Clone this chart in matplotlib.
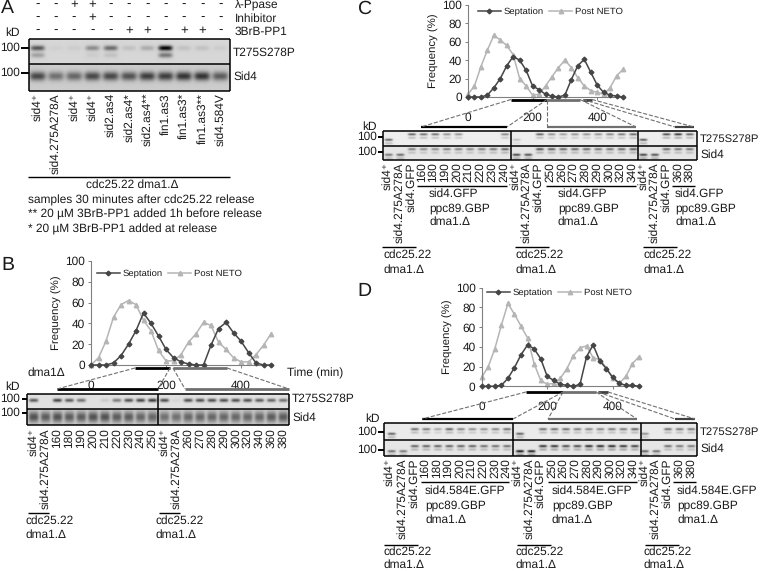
import numpy as np
import matplotlib
matplotlib.use('Agg')
import matplotlib.pyplot as plt

plt.rcParams['font.family'] = ['Liberation Sans', 'DejaVu Sans']
plt.rcParams['text.hinting'] = 'none'

W = 761
H = 571

times = [0, 20, 40, 60, 80, 100, 120, 140, 160, 180, 200, 220, 240, 260, 280, 300,
         320, 340, 360, 380, 400, 420, 440, 460, 480]

sept_b = [0, 0, 0, 2, 9, 20, 33, 50, 40, 28, 15, 7, 3, 1, 0, 0, 19, 35, 41, 31, 23, 12, 2, 0, 0]
neto_b = [0, 7, 23, 46, 58, 62, 58, 43, 33, 14, 4, 4, 10, 22, 30, 41, 38, 22, 15, 7, 3, 3, 10, 19, 30]
sept_c = [0, 0, 0, 2, 10, 20, 34, 44, 40, 29, 12, 8, 3, 1, 0, 2, 19, 34, 41, 27, 13, 5, 2, 1, 0]
neto_c = [3, 12, 33, 51, 67, 62, 56, 46, 20, 12, 2, 3, 12, 22, 32, 40, 32, 21, 12, 7, 5, 3, 10, 23, 30]
sept_d = [0, 0, 0, 1, 8, 19, 32, 42, 38, 28, 10, 6, 2, 1, 0, 2, 30, 42, 26, 18, 9, 3, 1, 1, 0]
neto_d = [9, 20, 38, 62, 84, 73, 61, 49, 23, 6, 2, 3, 8, 18, 31, 39, 41, 29, 27, 19, 8, 3, 10, 23, 30]

# panel A
lanes_a = ['sid4⁺', 'sid4.275A278A', 'sid4⁺', 'sid4⁺', 'sid2.as4', 'sid2.as4*', 'sid2.as4**',
           'fin1.as3', 'fin1.as3*', 'fin1.as3**', 'sid4.584V']
ppase = ['-', '-', '+', '+', '-', '-', '-', '-', '-', '-', '-']
inhibitor = ['-', '-', '-', '+', '-', '-', '-', '-', '-', '-', '-']
brb = ['-', '-', '-', '-', '-', '+', '+', '-', '+', '+', '-']
a_top = [.6, .03, .05, .35, .5, .1, .2, 1, .1, .1, .05]
a_smear = [.25, 0, 0, .05, .1, 0, 0, .45, 0, 0, 0]
a_sid4 = [.65, .45, .5, .65, .65, .6, .7, .7, .75, .75, .55]

# panel B
lanes_b1 = ['sid4⁺', 'sid4.275A278A', '160', '180', '190', '200', '210', '220', '230', '240', '250']
lanes_b2 = ['sid4⁺', 'sid4.275A278A', '260', '270', '280', '290', '300', '320', '340', '360', '380']
b_top = [.6, 0, .7, .6, .5, 0, .1, .45, .65, .7, .75,
         .65, .05, .65, .65, .65, .65, .65, .65, .6, .55, .5]
b_sid4 = [.6, .55, .6, .55, .55, .6, .6, .55, .55, .5, .5,
          .45, .45, .5, .5, .5, .5, .5, .5, .5, .55, .55]

# panels C and D
ctrl = ['sid4⁺', 'sid4.275A278A', 'sid4.GFP']
times_1 = ['160', '180', '190', '200', '210', '220', '230', '240']
times_2 = ['250', '260', '270', '280', '290', '300', '320', '340']
times_3 = ['360', '380']

c_top_hi = [0, 0, .6, .55, .55, .4, .4, 0, 0, 0, .45,
            0, 0, .6, .4, .35, .4, .4, .4, .45, .5, .6,
            0, 0, .7, .8, .6]
c_top_lo = [.6, 0, 0, 0, 0, 0, 0, 0, 0, 0, 0,
            .2, 0, 0, 0, 0, 0, 0, 0, 0, 0, 0,
            .65, 0, 0, 0, 0]
c_sid_hi = [0, 0, .45, .4, .4, .45, .45, .4, .45, .5, .6,
            0, 0, .65, .6, .55, .55, .55, .5, .5, .55, .6,
            0, 0, .55, .5, .5]
c_sid_lo = [.5, .55, 0, 0, 0, 0, 0, 0, 0, 0, 0,
            .7, .65, 0, 0, 0, 0, 0, 0, 0, 0, 0,
            .7, .65, 0, 0, 0]
d_top_hi = [0, 0, .55, .5, .3, .6, .45, .4, .4, .45, .55,
            0, 0, .55, .55, .55, .5, .45, .45, .5, .5, .6,
            0, 0, .55, .5, .5]
d_top_lo = [.6, 0, 0, 0, 0, 0, 0, 0, 0, 0, 0,
            .6, 0, 0, 0, 0, 0, 0, 0, 0, 0, 0,
            .4, 0, 0, 0, 0]
d_sid_hi = [0, 0, .6, .6, .6, .6, .6, .6, .55, .55, .55,
            0, 0, .8, .8, .7, .7, .85, .85, .85, .8, .75,
            0, 0, .55, .5, .5]
d_sid_lo = [.55, .5, 0, 0, 0, 0, 0, 0, 0, 0, 0,
            .95, .9, 0, 0, 0, 0, 0, 0, 0, 0, 0,
            .6, .55, 0, 0, 0]

fig = plt.figure(figsize=(W / 100, H / 100), dpi=100)

ov = fig.add_axes([0, 0, 1, 1], zorder=5)
ov.set_xlim(0, W)
ov.set_ylim(H, 0)
ov.axis('off')


def txt(x, y, s, size=8.6, ha='left', va='center', rot=0):
    ov.text(x, y, s, fontsize=size, ha=ha, va=va, rotation=rot, color='#1a1a1a')


def line(x0, y0, x1, y1, color='black', lw=1.0, ls='-'):
    ov.plot([x0, x1], [y0, y1], color=color, lw=lw, ls=ls, solid_capstyle='butt')


def chart(rect, sept, neto, legend_pos):
    x0, y0, x1, y1 = rect
    ax = fig.add_axes([x0 / W, 1 - y1 / H, (x1 - x0) / W, (y1 - y0) / H])
    ax.plot(times, sept, color='#454545', lw=1.1, marker='D', ms=2.4, clip_on=False, label='Septation', zorder=3)
    ax.plot(times, neto, color='#b5b5b5', lw=1.1, marker='^', ms=3.2, clip_on=False, label='Post NETO')
    ax.set_xlim(0, 480)
    ax.set_ylim(0, 100)
    ax.set_xticks([0, 200, 400])
    ax.set_yticks([0, 20, 40, 60, 80, 100])
    ax.tick_params(axis='y', labelsize=8.6, length=2.5, width=.7, color='#808080', pad=2, labelcolor='#1a1a1a')
    ax.tick_params(axis='x', labelsize=8.6, length=2, width=.7, color='#808080', pad=9, labelcolor='#1a1a1a')
    ax.spines['top'].set_visible(False)
    ax.spines['right'].set_visible(False)
    ax.spines['left'].set_color('#808080')
    ax.spines['bottom'].set_color('#808080')
    ax.patch.set_alpha(0)
    ax.set_ylabel('Frequency (%)', fontsize=8.2, labelpad=2, color='#1a1a1a')
    ax.legend(loc='center left', bbox_to_anchor=(legend_pos[0] / W, 1 - legend_pos[1] / H),
              bbox_transform=fig.transFigure, ncol=2, frameon=False, fontsize=6.8, handlelength=2.4,
              columnspacing=.6, borderpad=0, borderaxespad=0, handletextpad=.3, labelcolor='#1a1a1a')
    return ax


def blot(rect, centers, tracks, bg, width=4.5, sigma=1.6, ghost=0):
    # tracks: list of (levels, height as fraction of the panel)
    x0, y0, x1, y1 = rect
    nx = int((x1 - x0) * 2)
    ny = int((y1 - y0) * 2)
    xs = np.linspace(x0, x1, nx)
    ys = np.linspace(y0, y1, ny)
    img = np.full((ny, nx), bg, dtype=float)
    for levels, frac in tracks:
        yc = y0 + frac * (y1 - y0)
        gy = np.exp(-((ys - yc) / sigma) ** 2)
        if ghost:
            gy = gy + ghost * np.exp(-((ys - yc - 3.5) / sigma) ** 2)
        for cx, lev in zip(centers, levels):
            gx = np.exp(-((xs - cx) / width) ** 4)
            img -= lev * bg * np.outer(gy, gx)
    ov.imshow(np.clip(img, 0, 1), extent=(x0, x1, y1, y0), aspect='auto', cmap='gray', vmin=0, vmax=1,
              interpolation='bilinear')
    ov.set_xlim(0, W)
    ov.set_ylim(H, 0)


def frame(x0, x1, y0, ym, y1, dividers=()):
    for y in [y0, ym, y1]:
        line(x0, y, x1, y, lw=1.1)
    for x in [x0, x1] + list(dividers):
        line(x, y0, x, y1, lw=1.1)


def kd_marks(xlabel, ylabel, xright, ys, tick):
    txt(xlabel, ylabel, 'kD')
    for y in ys:
        txt(xright, y, '100', ha='right')
        line(tick[0], y, tick[1], y, lw=1.4)


def lane_labels(xs, names, top):
    for x, s in zip(xs, names):
        txt(x, top, s, ha='center', va='top', rot=90)


# ---- panel A
txt(1, 8, 'A', size=14)
xa = np.linspace(37.5, 220.5, 11)
for x, p, i, b in zip(xa, ppase, inhibitor, brb):
    txt(x, 5, p, ha='center', size=9.5)
    txt(x, 18, i, ha='center', size=9.5)
    txt(x, 31, b, ha='center', size=9.5)
txt(235, 5, 'λ-Ppase')
txt(235, 19, 'Inhibitor')
txt(235, 32, '3BrB-PP1')
blot((29, 39, 230, 64), xa, [(a_top, .36), (a_smear, .65)], .84, width=7, sigma=2.6)
blot((29, 64, 230, 91), xa, [(a_sid4, .45)], .8, width=8, sigma=4.5)
frame(29, 230, 39, 64, 91)
kd_marks(5, 33, 20, [48, 73], (21, 29))
txt(233, 53, 'T275S278P')
txt(233, 77, 'Sid4')
lane_labels(xa, lanes_a, 93)
line(28, 177, 230, 177)
txt(132, 185, 'cdc25.22 dma1.Δ', ha='center')
txt(28, 200, 'samples 30 minutes after cdc25.22 release')
txt(28, 214, '** 20 µM 3BrB-PP1 added 1h before release')
txt(28, 229, '* 20 µM 3BrB-PP1 added at release')

# ---- panel B
txt(1, 265, 'B', size=14)
chart((91, 261, 271, 365), sept_b, neto_b, (97, 274))
txt(287, 373, 'Time (min)')
txt(27, 373, 'dma1Δ')
line(135, 368, 170, 368, lw=2)
line(173, 368, 227, 368, color='#707070', lw=2)
line(57, 389, 158, 389, lw=2)
line(185, 389, 289, 389, color='#707070', lw=2)
for seg in [(135, 368, 57, 389), (170, 368, 158, 389), (173, 368, 185, 389), (227, 368, 289, 389)]:
    line(*seg, color='#707070', lw=.8, ls='--')
xb1 = np.linspace(33.5, 152.5, 11)
xb2 = np.linspace(164.5, 283.5, 11)
xb = np.concatenate([xb1, xb2])
blot((27, 394, 289, 409), xb, [(b_top, .42)], .88, sigma=1.8)
blot((27, 409, 289, 425), xb, [(b_sid4, .5)], .8, width=5, sigma=5.5)
frame(27, 289, 394, 409, 425, [158])
kd_marks(5, 387, 20, [399, 413], (22, 27))
txt(292, 399, 'T275S278P')
txt(292, 418, 'Sid4')
lane_labels(xb1, lanes_b1, 428)
lane_labels(xb2, lanes_b2, 428)
for x0 in [25, 156]:
    line(x0 + 3, 513, x0 + 24, 513)
    txt(x0, 521, 'cdc25.22')
    txt(x0, 535, 'dma1.Δ')

# ---- panel C
txt(357, 9, 'C', size=14)
chart((468, 5, 623, 97), sept_c, neto_c, (478, 12))
line(511, 99.5, 547, 99.5, lw=2)
line(547, 99.5, 580, 99.5, color='#707070', lw=2)
line(583, 99.5, 592, 99.5, color='#404040', lw=2)
line(421, 127, 507, 127, lw=1.6)
line(547, 127, 636, 127, color='#707070', lw=1.6)
line(675, 127, 694, 127, color='#404040', lw=1.6)
for seg in [(511, 99.5, 421, 127), (547, 99.5, 507, 127), (547, 99.5, 547, 127),
            (580, 99.5, 636, 127), (583, 99.5, 675, 127), (592, 99.5, 694, 127)]:
    line(*seg, color='#707070', lw=.8, ls='--')
xc = np.concatenate([np.linspace(388.5, 505, 11), np.linspace(516.5, 633.5, 11), np.linspace(643.5, 690, 5)])
blot((383, 131, 697, 145.5), xc, [(c_top_hi, .28), (c_top_lo, .66)], .93, width=4, sigma=1.1, ghost=.35)
blot((383, 145.5, 697, 160), xc, [(c_sid_hi, .27), (c_sid_lo, .66)], .9, width=4, sigma=1.2, ghost=.35)
frame(383, 697, 131, 145.5, 160, [511, 638])
kd_marks(362, 127, 377, [137, 152], (378, 383))
txt(700, 139, 'T275S278P', size=8.1)
txt(700, 155, 'Sid4')
lane_labels([387, 399.5, 411.5], ctrl, 162)
lane_labels(np.linspace(421.5, 504, 8), times_1, 162)
lane_labels([515, 526.5, 538], ctrl, 162)
lane_labels(np.linspace(550, 632.5, 8), times_2, 162)
lane_labels([643, 654.5, 666], ctrl, 162)
lane_labels([678, 689.5], times_3, 162)
for x0, x1 in [(417, 507), (546, 636), (672, 695)]:
    line(x0, 186, x1, 186)
for x0 in [429, 558, 675]:
    txt(x0, 194, 'sid4.GFP')
    txt(x0, 208, 'ppc89.GBP')
    txt(x0, 222, 'dma1.Δ')
for x0, tx in [(382, 383), (515, 516), (643, 644)]:
    line(x0, 247, x0 + 34, 247)
    txt(tx, 255, 'cdc25.22')
    txt(tx, 270, 'dma1.Δ')

# ---- panel D
txt(357, 291, 'D', size=14)
chart((481.7, 287.7, 639, 386.3), sept_d, neto_d, (487, 293))
line(526, 392, 563, 392, lw=2)
line(563, 392, 596, 392, color='#707070', lw=2)
line(598, 392, 608, 392, color='#404040', lw=2)
line(422, 419, 513, 419, lw=1.6)
line(548, 419, 637, 419, color='#707070', lw=1.6)
line(675, 419, 695, 419, color='#404040', lw=1.6)
for seg in [(526, 392, 422, 419), (563, 392, 513, 419), (563, 392, 548, 419),
            (596, 392, 637, 419), (598, 392, 675, 419), (608, 392, 695, 419)]:
    line(*seg, color='#707070', lw=.8, ls='--')
xd = np.concatenate([np.linspace(391.5, 507, 11), np.linspace(520, 635, 11), np.linspace(645, 691.5, 5)])
blot((384, 423, 697, 440), xd, [(d_top_hi, .36), (d_top_lo, .64)], .92, width=4, sigma=1.2, ghost=.35)
blot((384, 440, 697, 456), xd, [(d_sid_hi, .38), (d_sid_lo, .71)], .9, width=4, sigma=1.2, ghost=.35)
frame(384, 697, 423, 440, 456, [513, 641])
kd_marks(365, 419, 377, [432, 450], (378, 384))
txt(700, 432, 'T275S278P', size=8.1)
txt(700, 449, 'Sid4')
lane_labels([389.5, 402, 414], ctrl, 458)
lane_labels(np.linspace(425, 506.5, 8), times_1, 458)
lane_labels([517.5, 529, 540.5], ctrl, 458)
lane_labels(np.linspace(552, 633, 8), times_2, 458)
lane_labels([644, 655.5, 667.5], ctrl, 458)
lane_labels([679.5, 691], times_3, 458)
for x0, x1 in [(421, 509), (548, 637), (673, 696)]:
    line(x0, 482, x1, 482)
for x0 in [425, 552, 677]:
    txt(x0, 491, 'sid4.584E.GFP')
    txt(x0, 505, 'ppc89.GBP')
    txt(x0, 520, 'dma1.Δ')
for x0, tx in [(384, 383), (517, 516), (645, 644)]:
    line(x0, 545, x0 + 34, 545)
    txt(tx, 552, 'cdc25.22')
    txt(tx, 565, 'dma1.Δ')

fig.savefig('out.png', dpi=100)
